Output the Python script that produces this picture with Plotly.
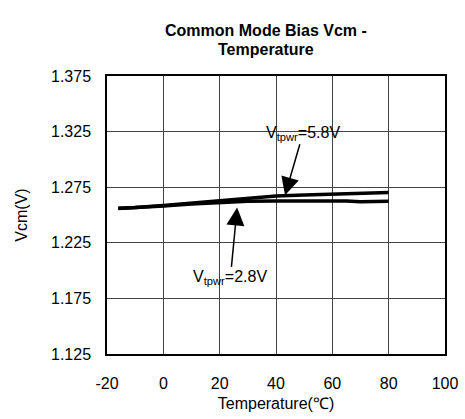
import plotly.graph_objects as go

temp_58 = [-16, -10, 0, 10, 20, 30, 40, 50, 60, 70, 80]
vcm_58 = [1.2561, 1.2567, 1.2585, 1.2605, 1.2628, 1.2650, 1.2670, 1.2680, 1.2687, 1.2692, 1.2703]
temp_28 = [-16, -10, 0, 10, 20, 30, 40, 50, 60, 65, 70, 75, 80]
vcm_28 = [1.2559, 1.2565, 1.2582, 1.2600, 1.2615, 1.2624, 1.2627, 1.2628, 1.2627, 1.2625, 1.2620, 1.2624, 1.2624]

x_ticks = [-20, 0, 20, 40, 60, 80, 100]
x_labels = ["-20", "0", "20", "40", "60", "80", "100"]
y_ticks = [1.125, 1.175, 1.225, 1.275, 1.325, 1.375]
y_labels = ["1.125", "1.175", "1.225", "1.275", "1.325", "1.375"]

title_lines = ["Common Mode Bias Vcm -", "Temperature"]
label_58 = "V<sub>tpwr</sub>=5.8V"
label_28 = "V<sub>tpwr</sub>=2.8V"

FONT = "Liberation Sans, Arial, sans-serif"
W, H = 465, 419
L, R, T, B = 107, 20, 76, 65
PH = H - T - B


def py(pix):
    return (H - B - pix) / PH


fig = go.Figure()
fig.add_trace(go.Scatter(x=temp_28, y=vcm_28, mode="lines",
                         line=dict(color="black", width=3.5), showlegend=False))
fig.add_trace(go.Scatter(x=temp_58, y=vcm_58, mode="lines",
                         line=dict(color="black", width=3.5), showlegend=False))

# labels with arrows (text centred at ax/ay, arrow tip at x/y)
fig.add_annotation(x=43.2, y=1.2678, xref="x", yref="y", ax=49.6, ay=1.3235,
                   axref="x", ayref="y", text=label_58, showarrow=True,
                   arrowhead=2, arrowwidth=1.5, arrowsize=2.4, arrowcolor="black", standoff=0,
                   font=dict(family=FONT, size=16, color="black"))
fig.add_annotation(x=26.2, y=1.2567, xref="x", yref="y", ax=23.8, ay=1.1935,
                   axref="x", ayref="y", text=label_28, showarrow=True,
                   arrowhead=2, arrowwidth=1.5, arrowsize=2.4, arrowcolor="black", standoff=0,
                   font=dict(family=FONT, size=16, color="black"))

# title (two lines)
fig.add_annotation(x=(266 - L) / (W - L - R), y=py(31), xref="paper", yref="paper",
                   text="<b>" + title_lines[0] + "</b>", showarrow=False,
                   xanchor="center", yanchor="middle",
                   font=dict(family=FONT, size=16, color="black"))
fig.add_annotation(x=(266 - L) / (W - L - R), y=py(50), xref="paper", yref="paper",
                   text="<b>" + title_lines[1] + "</b>", showarrow=False,
                   xanchor="center", yanchor="middle",
                   font=dict(family=FONT, size=16, color="black"))

fig.update_xaxes(range=[-20, 100], tickvals=x_ticks, ticktext=x_labels, showgrid=True,
                 gridcolor="#444", automargin=False,
                 gridwidth=1, showline=True, linecolor="black", linewidth=1.5, mirror=True,
                 zeroline=False, ticks="", ticklabelstandoff=14,
                 tickfont=dict(family=FONT, size=16, color="black"),
                 title=dict(text="Temperature(℃)", font=dict(family=FONT, size=16, color="black"),
                            standoff=7))
fig.update_yaxes(range=[1.125, 1.375], tickvals=y_ticks, ticktext=y_labels, showgrid=True,
                 gridcolor="#444", gridwidth=1, showline=True, linecolor="black", linewidth=1.5,
                 mirror=True, zeroline=False, ticks="", ticklabelstandoff=11, automargin=False,
                 tickfont=dict(family=FONT, size=16, color="black"),
                 title=dict(text="Vcm(V)", font=dict(family=FONT, size=16, color="black"),
                            standoff=19))

fig.update_layout(width=W, height=H, margin=dict(l=L, r=R, t=T, b=B),
                  plot_bgcolor="white", paper_bgcolor="white",
                  font=dict(family=FONT, color="black"))

fig.write_html("out.html", config={"displayModeBar": False},
               post_script="document.body.style.margin='0px';")
